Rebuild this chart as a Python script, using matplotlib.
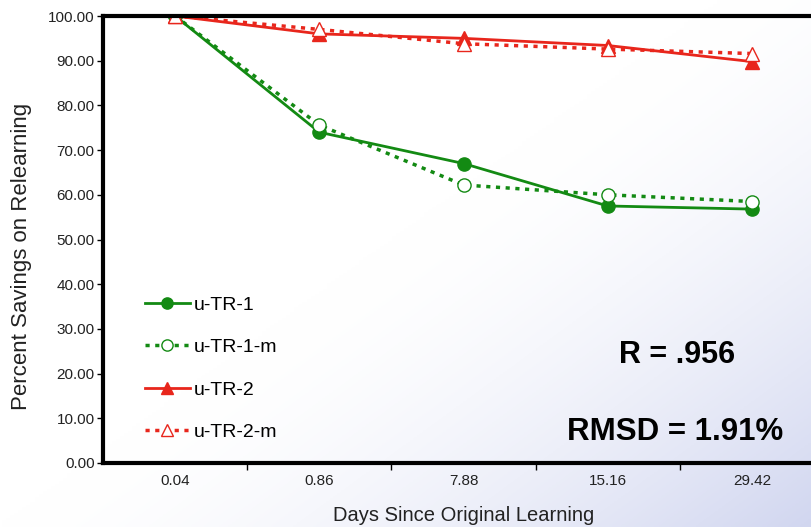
import numpy as np
import matplotlib as mpl
mpl.use('Agg')
import matplotlib.pyplot as plt

plt.rcParams['font.family'] = ['Liberation Sans', 'DejaVu Sans']

days = ['0.04', '0.86', '7.88', '15.16', '29.42']
tr1 = [100.0, 74.0, 67.0, 57.5, 56.8]
tr1_m = [100.0, 75.6, 62.2, 60.0, 58.5]
tr2 = [100.0, 96.0, 95.0, 93.4, 89.8]
tr2_m = [100.0, 97.0, 93.8, 92.6, 91.6]

green = '#138a13'
red = '#e8261c'

fig = plt.figure(figsize=(8.12, 5.27), dpi=100)

# background gradient, white at top left to pale lavender at bottom right
bg = fig.add_axes([0, 0, 1, 1], zorder=-10)
gx, gy = np.meshgrid(np.linspace(0, 1, 200), np.linspace(0, 1, 200))
t = np.clip((gx * 0.9 + gy * 0.8 - 0.8) / 0.9, 0, 1) ** 1.6
c0 = np.array([1.0, 1.0, 1.0])
c1 = np.array([0.82, 0.84, 0.94])
img = c0[None, None, :] * (1 - t[..., None]) + c1[None, None, :] * t[..., None]
bg.imshow(img, extent=[0, 1, 0, 1], origin='upper', aspect='auto')
bg.axis('off')

ax = fig.add_axes([103 / 812, 1 - 463 / 527, (824 - 103) / 812, (463 - 16) / 527])
ax.patch.set_alpha(0)
x = np.arange(len(days))

ax.plot(x, tr1, '-', color=green, lw=2, marker='o', ms=9.5, label='u-TR-1')
ax.plot(x, tr1_m, color=green, lw=2.5, dashes=(1.2, 1.6), marker='o', ms=9.5,
        mfc='white', mec=green, mew=1, label='u-TR-1-m')
ax.plot(x, tr2, '-', color=red, lw=2, marker='^', ms=9.5, label='u-TR-2')
ax.plot(x, tr2_m, color=red, lw=2.5, dashes=(1.2, 1.6), marker='^', ms=10.5,
        mfc='white', mec=red, mew=1, label='u-TR-2-m')

ax.set_xlim(-0.5, 4.5)
ax.set_ylim(0, 100)
ax.set_yticks(np.arange(0, 101, 10))
ax.set_yticklabels(['%.2f' % v for v in np.arange(0, 101, 10)], fontsize=11, color='#222222')
ax.set_xticks(x)
ax.set_xticklabels(days, fontsize=11, color='#222222')
ax.set_xticks(np.arange(0.5, 4.5, 1), minor=True)
ax.tick_params(axis='x', which='major', length=0, pad=8)
ax.tick_params(axis='x', which='minor', length=5, width=1, direction='out')
ax.tick_params(axis='y', length=4, width=1, direction='out', pad=2)
for s in ['left', 'bottom', 'top', 'right']:
    ax.spines[s].set_linewidth(3)

ax.set_xlabel('Days Since Original Learning', fontsize=14.5, labelpad=13, color='#222222')
ax.set_ylabel('Percent Savings on Relearning', fontsize=16, color='#222222')
ax.yaxis.set_label_coords((32 - 103) / 721, (463 - 256) / 447)

leg = ax.legend(loc='upper left', bbox_to_anchor=(145 / 812, 1 - 296 / 527),
                bbox_transform=fig.transFigure, frameon=False, borderpad=0,
                borderaxespad=0, fontsize=14, handlelength=2.3, labelspacing=1.28,
                handletextpad=0.2, markerscale=0.85)

fig.text(677 / 812, 1 - 355 / 527, 'R = .956', fontsize=22, fontweight='bold',
         ha='center', va='center')
fig.text(675 / 812, 1 - 432 / 527, 'RMSD = 1.91%', fontsize=22.5, fontweight='bold',
         ha='center', va='center')

fig.savefig('out.png', dpi=100)
